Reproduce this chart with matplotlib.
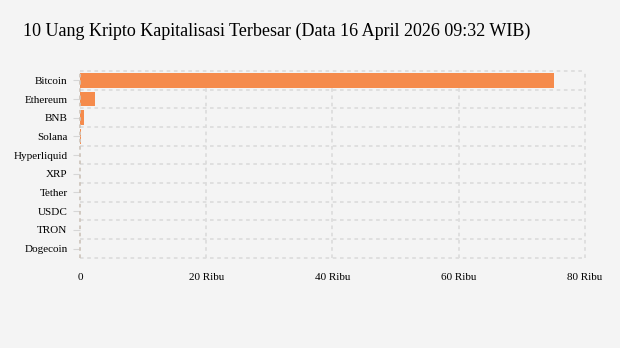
import matplotlib.pyplot as plt
from matplotlib.ticker import FuncFormatter

coins = ["Bitcoin", "Ethereum", "BNB", "Solana", "Hyperliquid",
         "XRP", "Tether", "USDC", "TRON", "Dogecoin"]
values = [75100, 2320, 610, 86, 42, 1.4, 1.0, 1.0, 0.33, 0.095]
xticks = [0, 20000, 40000, 60000, 80000]

plt.rcParams['font.family'] = ['Liberation Serif', 'DejaVu Serif']

fig = plt.figure(figsize=(6.2, 3.48), dpi=100, facecolor='#f4f4f4')
ax = fig.add_axes([0.129, 0.259, 0.8145, 0.537], facecolor='#f4f4f4')

y = list(range(len(coins)))
ax.barh(y, values, height=0.8, color='#f58b4c')
ax.set_ylim(len(coins) - 0.5, -0.5)
ax.set_xlim(0, 80000)

ax.set_yticks(y)
ax.set_yticklabels(coins, fontsize=8)
ax.set_xticks(xticks)
ax.xaxis.set_major_formatter(FuncFormatter(lambda v, p: "0" if v == 0 else f"{int(v/1000)} Ribu"))
ax.tick_params(axis='x', length=0, pad=11, labelsize=8)
ax.tick_params(axis='y', length=5, color='#d6d6d6', pad=4)

# grid: vertical at ticks, horizontal between categories
for xv in xticks[1:]:
    ax.axvline(xv, color='#dddddd', linestyle=(0, (2, 2)), linewidth=1.3, zorder=0, clip_on=False)
for b in [i + 0.5 for i in range(-1, len(coins))]:
    ax.axhline(b, color='#dddddd', linestyle=(0, (2, 2)), linewidth=1.3, zorder=0, clip_on=False)
ax.axvline(0, color='#cfc6bd', linestyle=(0, (2, 2)), linewidth=1.3, zorder=3, clip_on=False)

for s in ax.spines.values():
    s.set_visible(False)

fig.text(0.037, 0.91, "10 Uang Kripto Kapitalisasi Terbesar (Data 16 April 2026 09:32 WIB)",
         fontsize=13, ha='left', va='center')

fig.savefig('out.png', dpi=100, facecolor=fig.get_facecolor())
